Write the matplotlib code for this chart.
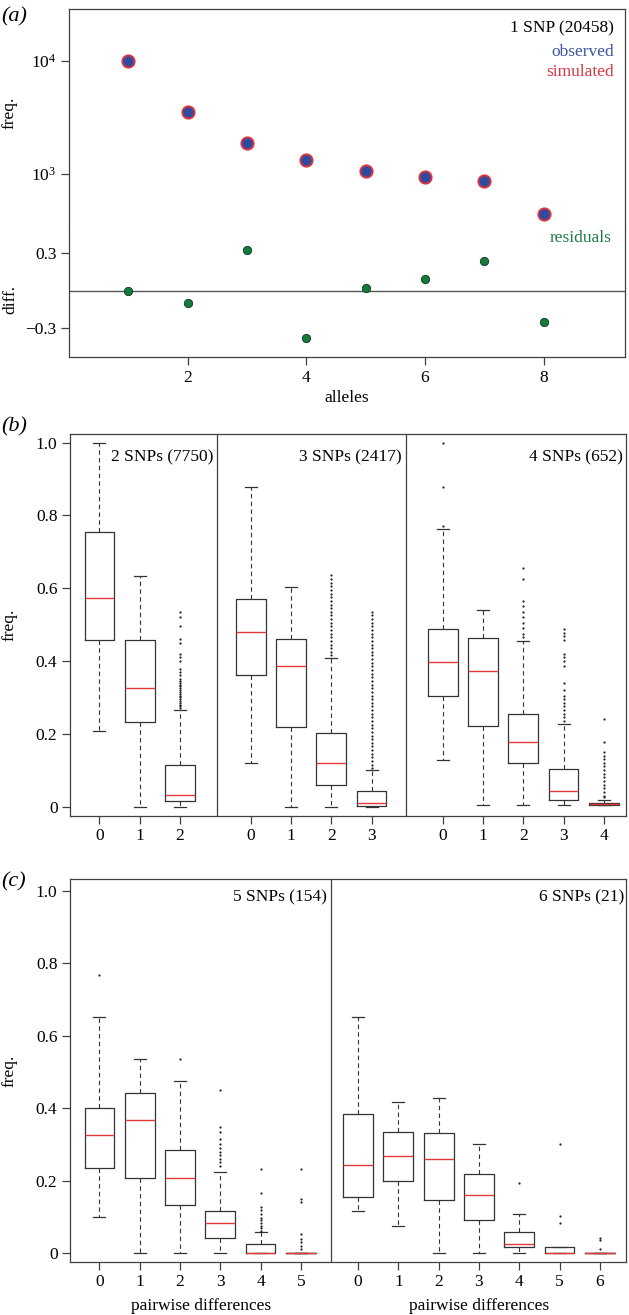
import matplotlib
matplotlib.use('Agg')
import matplotlib.pyplot as plt
from matplotlib.ticker import NullLocator

plt.rcParams['font.family'] = ['Liberation Serif', 'DejaVu Serif']
plt.rcParams['mathtext.fontset'] = 'stix'
plt.rcParams['font.size'] = 12.5

# ---- panel (a): allele frequency spectrum, 1 SNP
alleles = [1, 2, 3, 4, 5, 6, 7, 8]
observed = [10000, 3540, 1890, 1320, 1064, 946, 873, 443]
simulated = [10000, 3540, 1890, 1320, 1064, 946, 873, 443]
residuals = [0.0, -0.099, 0.327, -0.378, 0.024, 0.091, 0.233, -0.249]

# ---- panel (b): 2, 3, 4 SNPs
g2_lo = [0.207, 0.0, 0.0]
g2_q1 = [0.457, 0.231, 0.014]
g2_med = [0.573, 0.325, 0.032]
g2_q3 = [0.754, 0.458, 0.115]
g2_hi = [1.0, 0.632, 0.266]
g2_out = [[], [],
          [0.535, 0.52, 0.497, 0.46, 0.45, 0.418, 0.41, 0.40, 0.377, 0.37, 0.36,
           0.35, 0.345, 0.34, 0.335, 0.33, 0.325, 0.32, 0.315, 0.31, 0.305, 0.30,
           0.295, 0.29, 0.285, 0.28, 0.275, 0.27]]

g3_lo = [0.119, 0.0, 0.0, 0.0]
g3_q1 = [0.361, 0.219, 0.060, 0.002]
g3_med = [0.479, 0.385, 0.119, 0.009]
g3_q3 = [0.570, 0.461, 0.201, 0.043]
g3_hi = [0.877, 0.602, 0.409, 0.100]
g3_out = [[], [],
          [0.635, 0.625, 0.615, 0.605, 0.595, 0.585, 0.575, 0.565, 0.555, 0.545,
           0.535, 0.525, 0.515, 0.505, 0.495, 0.485, 0.475, 0.465, 0.455, 0.445,
           0.435, 0.425, 0.415],
          [0.535, 0.525, 0.515, 0.505, 0.495, 0.485, 0.475, 0.465, 0.455, 0.445,
           0.435, 0.425, 0.415, 0.405, 0.395, 0.385, 0.375, 0.365, 0.355, 0.345,
           0.335, 0.325, 0.315, 0.305, 0.295, 0.285, 0.275, 0.265, 0.255, 0.245,
           0.235, 0.225, 0.215, 0.205, 0.195, 0.185, 0.175, 0.165, 0.155, 0.145,
           0.135, 0.125, 0.115, 0.105]]

g4_lo = [0.128, 0.004, 0.004, 0.004, 0.003]
g4_q1 = [0.304, 0.220, 0.119, 0.018, 0.003]
g4_med = [0.396, 0.371, 0.178, 0.044, 0.0065]
g4_q3 = [0.487, 0.462, 0.253, 0.102, 0.011]
g4_hi = [0.762, 0.539, 0.454, 0.228, 0.019]
g4_out = [[1.0, 0.877, 0.770], [],
          [0.655, 0.626, 0.565, 0.55, 0.535, 0.52, 0.505, 0.49, 0.475, 0.465],
          [0.488, 0.478, 0.468, 0.458, 0.42, 0.41, 0.40, 0.385, 0.34, 0.32, 0.305,
           0.295, 0.285, 0.275, 0.265, 0.255, 0.245, 0.235],
          [0.24, 0.177, 0.15, 0.14, 0.13, 0.12, 0.11, 0.10, 0.09, 0.08, 0.07,
           0.06, 0.05, 0.04, 0.03, 0.025]]

# ---- panel (c): 5, 6 SNPs
g5_lo = [0.100, 0.0, 0.0, 0.0, 0.0, 0.0]
g5_q1 = [0.234, 0.208, 0.133, 0.041, 0.0, 0.0]
g5_med = [0.325, 0.367, 0.208, 0.083, 0.0, 0.0]
g5_q3 = [0.400, 0.441, 0.284, 0.117, 0.025, 0.0]
g5_hi = [0.651, 0.535, 0.476, 0.225, 0.057, 0.0]
g5_out = [[0.767], [], [0.535],
          [0.45, 0.349, 0.333, 0.315, 0.30, 0.29, 0.28, 0.27, 0.26, 0.25, 0.24],
          [0.233, 0.165, 0.128, 0.118, 0.108, 0.098, 0.09, 0.082, 0.075, 0.068, 0.062],
          [0.233, 0.148, 0.14, 0.052, 0.04, 0.03, 0.02, 0.01]]

g6_lo = [0.117, 0.076, 0.0, 0.0, 0.0, 0.0, 0.0]
g6_q1 = [0.155, 0.200, 0.146, 0.092, 0.017, 0.0, 0.0]
g6_med = [0.242, 0.267, 0.259, 0.159, 0.026, 0.0, 0.0]
g6_q3 = [0.384, 0.335, 0.330, 0.218, 0.059, 0.0175, 0.0]
g6_hi = [0.651, 0.418, 0.427, 0.300, 0.108, 0.0175, 0.0]
g6_out = [[], [], [], [], [0.193], [0.30, 0.103, 0.083], [0.043, 0.035, 0.01]]

group_names = ['2 SNPs (7750)', '3 SNPs (2417)', '4 SNPs (652)',
               '5 SNPs (154)', '6 SNPs (21)']

W, H = 629, 1315
fig = plt.figure(figsize=(W / 100, H / 100), dpi=100)
frame = '#404040'
blue = '#2E4BA0'
red = '#D9343F'
green = '#177A3C'


def add_ax(l, t, r, b):
    return fig.add_axes([l / W, 1 - b / H, (r - l) / W, (b - t) / H])


def style(ax):
    for sp in ax.spines.values():
        sp.set_color(frame)
        sp.set_linewidth(0.9)
    ax.tick_params(direction='out', length=6, width=0.9, color=frame, pad=3,
                   labelsize=12.5)


# panel (a)
axu = add_ax(69, 9, 625, 230)
axl = add_ax(69, 230, 625, 357)
for ax in (axu, axl):
    style(ax)
    ax.set_xlim(0, 9.37)
axu.set_yscale('log')
axu.set_ylim(10 ** 2.504, 10 ** 4.46)
axu.spines['bottom'].set_visible(False)
axl.spines['top'].set_visible(False)
axu.set_xticks([])
axu.set_yticks([1e3, 1e4])
axu.yaxis.set_minor_locator(NullLocator())
axu.plot(alleles, simulated, 'o', ms=9.2, color=red, mec=red, clip_on=False)
axu.plot(alleles, observed, 'o', ms=7.4, color=blue, mew=0, clip_on=False)

axl.axhline(0, color='#555555', lw=1)
axl.plot(alleles, residuals, 'o', ms=6, mfc=green, mec='#0A3A1C', mew=0.6)
axl.set_ylim(-0.527, 0.483)
axl.set_yticks([-0.3, 0.3])
axl.set_xticks([2, 4, 6, 8])
axl.set_xlabel('alleles', labelpad=3)

fig.text(614 / W, 1 - 28 / H, '1 SNP (20458)', ha='right', va='center')
fig.text(614 / W, 1 - 52 / H, 'observed', ha='right', va='center', color='#3A55A5')
fig.text(614 / W, 1 - 72 / H, 'simulated', ha='right', va='center', color=red)
fig.text(612 / W, 1 - 238 / H, 'residuals', ha='right', va='center', color='#1E7A45')
fig.text(10 / W, 1 - 113 / H, 'freq.', rotation=90, ha='center', va='center')
fig.text(10 / W, 1 - 300 / H, 'diff.', rotation=90, ha='center', va='center')
fig.text(1 / W, 1 - 17 / H, '(a)', style='italic', fontsize=16, va='center')


def boxes(ax, start, lo, q1, med, q3, hi, out):
    stats = [dict(whislo=a, q1=b, med=c, q3=d, whishi=e, fliers=f)
             for a, b, c, d, e, f in zip(lo, q1, med, q3, hi, out)]
    pos = [start + i for i in range(len(stats))]
    ax.bxp(stats, positions=pos, widths=0.74, capwidths=0.3, manage_ticks=False,
           boxprops=dict(color='#333333', lw=0.9),
           medianprops=dict(color='#E23A3A', lw=1.0),
           whiskerprops=dict(color='#333333', lw=0.8, linestyle=(0, (4, 3))),
           capprops=dict(color='#333333', lw=0.9),
           flierprops=dict(marker='o', ms=1.6, mfc='#222222', mec='none',
                           linestyle='none'))
    return pos


def panel(top, bottom, ymax, ymin, groups, starts, dividers, names, label_dy,
          label_ends, tag, tag_y, xlab=None, xlab_x=None):
    ax = add_ax(70, top, 626, bottom)
    style(ax)
    ax.set_xlim(0, 13.8)
    ax.set_ylim(ymin, ymax)
    ticks, labels = [], []
    for g, s in zip(groups, starts):
        pos = boxes(ax, s, *g)
        ticks += pos
        labels += [str(i) for i in range(len(pos))]
    ax.set_xticks(ticks)
    ax.set_xticklabels(labels)
    ax.set_yticks([0, 0.2, 0.4, 0.6, 0.8, 1.0])
    ax.set_yticklabels(['0', '0.2', '0.4', '0.6', '0.8', '1.0'])
    for d in dividers:
        ax.axvline(d, color=frame, lw=0.9)
    for n, xe in zip(names, label_ends):
        ax.text(xe, 1 - label_dy / (bottom - top), n, ha='right', va='center',
                transform=ax.get_xaxis_transform())
    fig.text(10 / W, 1 - (top + bottom) / 2 / H, 'freq.', rotation=90,
             ha='center', va='center')
    fig.text(1 / W, 1 - tag_y / H, tag, style='italic', fontsize=16, va='center')
    if xlab:
        for xc in xlab_x:
            fig.text(xc / W, 1 - 1306 / H, xlab, ha='center', va='center')
    return ax


panel(434, 816, 1.0234, -0.026,
      [(g2_lo, g2_q1, g2_med, g2_q3, g2_hi, g2_out),
       (g3_lo, g3_q1, g3_med, g3_q3, g3_hi, g3_out),
       (g4_lo, g4_q1, g4_med, g4_q3, g4_hi, g4_out)],
      [0.73, 4.485, 9.25], [3.65, 8.33], group_names[:3], 23,
      [3.55, 8.23, 13.72], '(b)', 427)

panel(879, 1262, 1.0323, -0.0246,
      [(g5_lo, g5_q1, g5_med, g5_q3, g5_hi, g5_out),
       (g6_lo, g6_q1, g6_med, g6_q3, g6_hi, g6_out)],
      [0.73, 7.15], [6.49], group_names[3:], 18,
      [6.38, 13.76], '(c)', 882, 'pairwise differences', [200.8, 478.8])

fig.savefig('out.png', dpi=100)
